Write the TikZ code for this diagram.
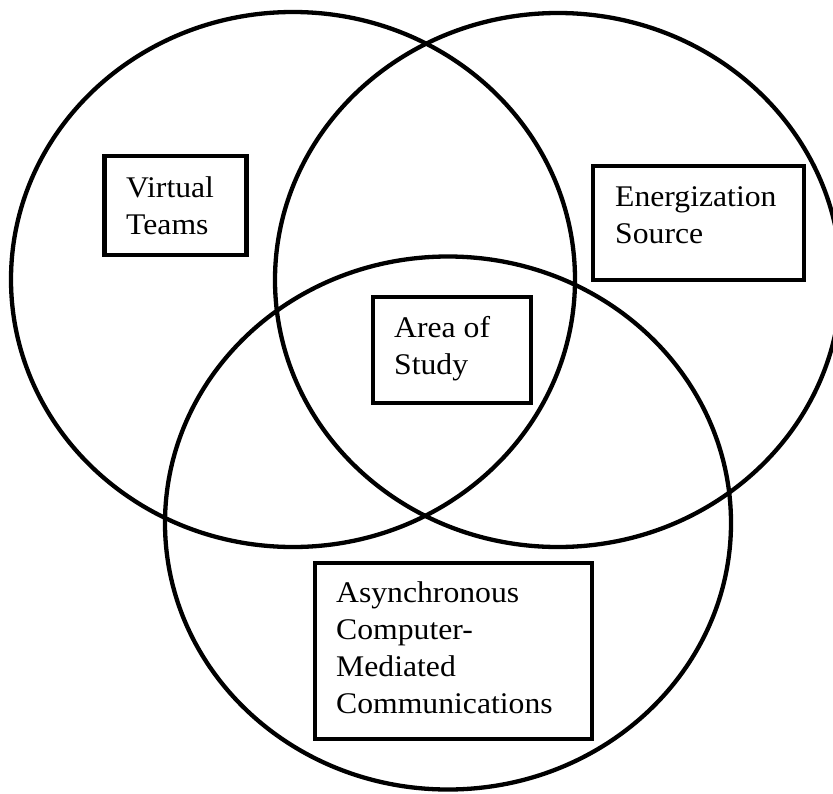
\documentclass[tikz,border=0pt]{standalone}
\usepackage{fontspec}
\setmainfont{Liberation Serif}[FakeStretch=1.056]
\begin{document}
\begin{tikzpicture}[x=1pt,y=1pt,
  ring/.style={line width=4.3pt},
  box/.style={draw, line width=4.8pt, inner sep=0pt},
  txt/.style={inner sep=0pt, align=left, font=\fontsize{30}{37}\selectfont}]
\useasboundingbox (0,0) rectangle (833,-793);
% circles
\draw[ring] (293,-279.5) ellipse [x radius=282pt, y radius=267.5pt];
\draw[ring] (558,-280) ellipse [x radius=283pt, y radius=267pt];
\draw[ring] (448,-523) ellipse [x radius=283pt, y radius=266.5pt];
% boxes
\node[box, minimum width=142pt, minimum height=99pt] (vt) at (175.6,-205.5) {};
\node[box, minimum width=211pt, minimum height=114pt] (es) at (698.5,-223) {};
\node[box, minimum width=158pt, minimum height=106pt] (as) at (452,-350) {};
\node[box, minimum width=277pt, minimum height=176pt] (ac) at (453.5,-651) {};
% labels
\node[txt, anchor=north west] (vtt) at (126,-176) {Virtual\\Teams};
\node[txt, anchor=north west] (est) at (615,-186) {Energization\\Source};
\node[txt, anchor=north west] (ast) at (394,-316) {Area of\\Study};
\node[txt, anchor=north west] (act) at (336,-581) {Asynchronous\\Computer-\\Mediated\\Communications};
\end{tikzpicture}
\end{document}
